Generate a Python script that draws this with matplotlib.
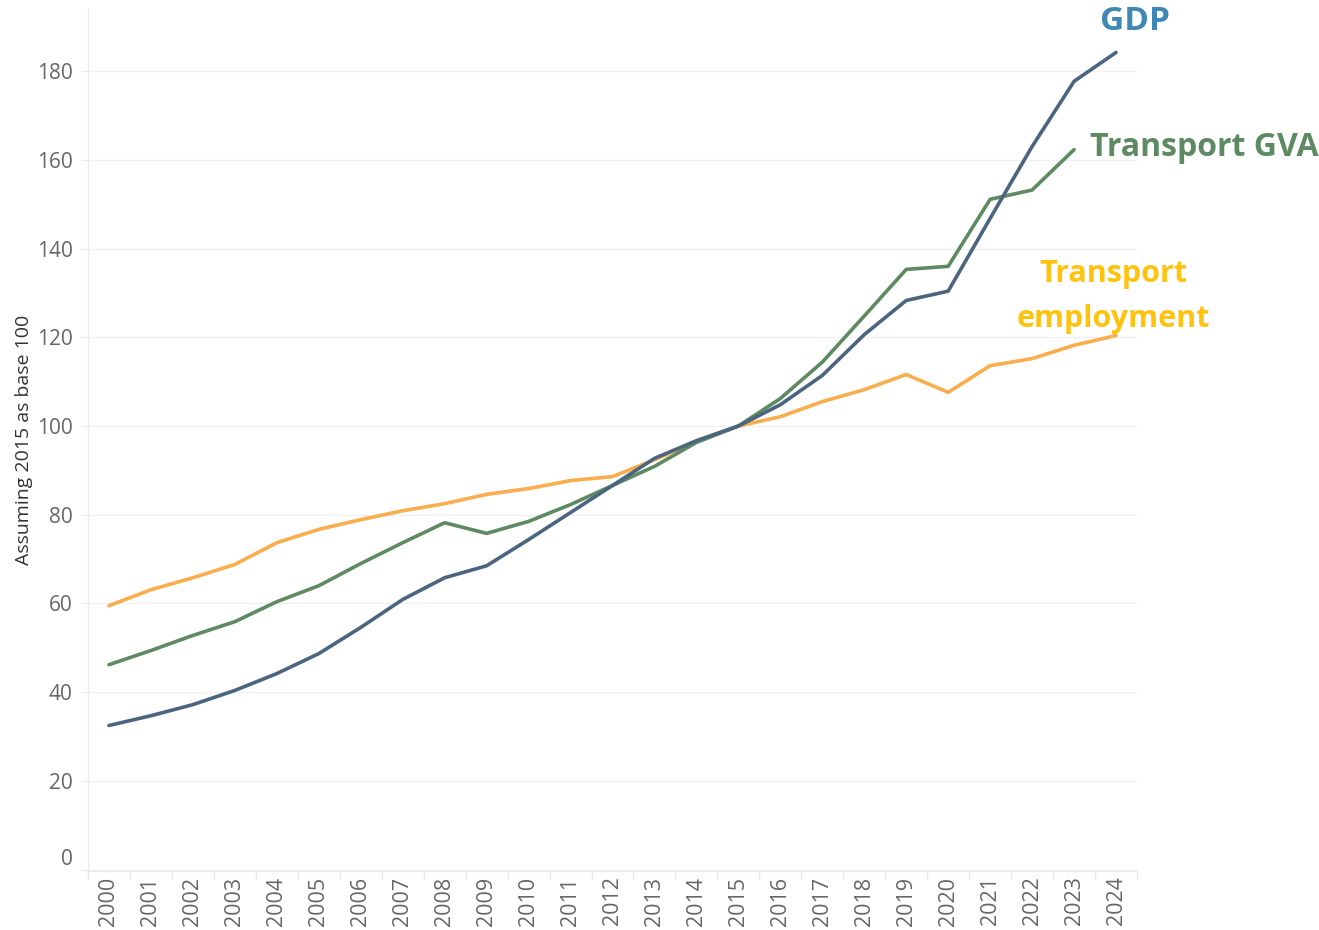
import numpy as np
import matplotlib.pyplot as plt

plt.rcParams['font.family'] = ['Open Sans', 'DejaVu Sans']

# Index values, 2015 = 100
years = np.arange(2000, 2025)
gdp = [32.5, 34.7, 37.2, 40.4, 44.2, 48.7, 54.6, 60.9, 65.8, 68.5,
       74.4, 80.5, 86.6, 92.7, 96.7, 100.0, 104.8, 111.4, 120.6, 128.3,
       130.4, 146.8, 163.0, 177.7, 184.2]
transport_gva = [46.2, 49.4, 52.8, 55.9, 60.4, 64.0, 69.0, 73.7, 78.2, 75.8,
                 78.5, 82.3, 86.6, 90.9, 96.3, 100.0, 106.2, 114.4, 124.8, 135.3,
                 136.0, 151.1, 153.2, 162.3]
transport_emp = [59.5, 63.1, 65.8, 68.8, 73.7, 76.7, 78.9, 80.9, 82.5, 84.6,
                 85.9, 87.7, 88.6, 92.4, 96.5, 100.0, 102.1, 105.5, 108.2, 111.6,
                 107.6, 113.6, 115.2, 118.2, 120.4]

c_gdp = '#4b6581'
c_gva = '#5d8a61'
c_emp = '#f9ad4c'

fig = plt.figure(figsize=(13.19, 9.30), dpi=100)
ax = fig.add_axes([88 / 1319, 1 - 871 / 930, (1137 - 88) / 1319, (871 - 9) / 930])

ax.plot(years, transport_emp, color=c_emp, lw=2.6, solid_capstyle='round', zorder=3)
ax.plot(years[:len(transport_gva)], transport_gva, color=c_gva, lw=2.6, solid_capstyle='round', zorder=4)
ax.plot(years, gdp, color=c_gdp, lw=2.6, solid_capstyle='round', zorder=5)

ax.set_xlim(1999.5, 2024.5)
ax.set_ylim(-0.3, 194)
ax.set_yticks(np.arange(0, 181, 20))
ax.set_xticks(years)
ax.set_xticklabels([str(y) for y in years], rotation=90, fontsize=15.5, color='#666666')
ax.set_xticks(np.arange(1999.5, 2025, 1), minor=True)
ax.tick_params(axis='x', which='major', length=0, pad=4)
ax.tick_params(axis='x', which='minor', length=6, color='#e8e8e8', width=1)
ax.tick_params(axis='y', length=5, color='#e8e8e8', labelsize=15, labelcolor='#666666', pad=6)
# bottom label sits just above the axis line, as in the original
ax.get_yticklabels()[0].set_va('bottom')

ax.grid(axis='y', color='#f0f0f0', lw=1)
ax.set_axisbelow(True)
for s in ['top', 'right']:
    ax.spines[s].set_visible(False)
for s in ['left', 'bottom']:
    ax.spines[s].set_color('#ececec')

ax.set_ylabel('Assuming 2015 as base 100', fontsize=14, color='#333333')
ax.yaxis.set_label_coords(-0.052, 0.5)

ax.text(2024.46, 191.2, 'GDP', color='#3f87b4', fontsize=24, fontweight='bold',
        ha='center', va='center', clip_on=False)
ax.text(2023.37, 162.8, 'Transport GVA', color=c_gva, fontsize=23, fontweight='bold',
        ha='left', va='center', clip_on=False)
ax.text(2023.94, 129.3, 'Transport\nemployment', color='#ffc20e', fontsize=22, fontweight='bold',
        ha='center', va='center', linespacing=1.65, clip_on=False)

fig.savefig('out.png', dpi=100)
